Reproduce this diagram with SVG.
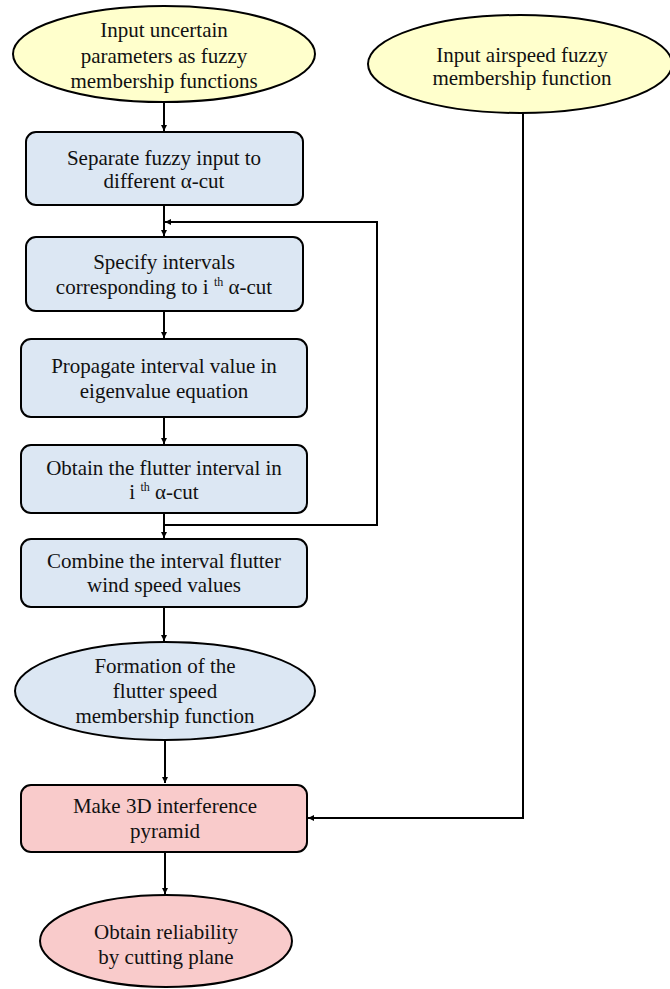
<svg xmlns="http://www.w3.org/2000/svg" width="670" height="989" viewBox="0 0 670 989">
<style>
.n{stroke:#000;stroke-width:2}
.y{fill:#FFFFCC}
.b{fill:#DCE7F3}
.p{fill:#F9CBCB}
.t{font-family:'Liberation Serif','Times New Roman',serif;font-size:21px;fill:#111;text-anchor:middle}
.sup{font-size:12px}
.c{fill:none;stroke:#000;stroke-width:2}
</style>
<defs>
<marker id="ah" viewBox="0 0 10 10" refX="10" refY="5" markerWidth="6" markerHeight="6" orient="auto" markerUnits="userSpaceOnUse">
<path d="M0,0 L10,5 L0,10 z" fill="#000"/>
</marker>
</defs>
<rect width="670" height="989" fill="#fff"/>
<g id="connectors">
<path class="c" d="M164,103 V131" marker-end="url(#ah)"/>
<path class="c" d="M164,205 V236" marker-end="url(#ah)"/>
<path class="c" d="M164,311 V338" marker-end="url(#ah)"/>
<path class="c" d="M164,417 V444" marker-end="url(#ah)"/>
<path class="c" d="M164,513 V538" marker-end="url(#ah)"/>
<path class="c" d="M164,525 H377 V222 H165" marker-end="url(#ah)"/>
<path class="c" d="M164,607 V641" marker-end="url(#ah)"/>
<path class="c" d="M165,740 V783" marker-end="url(#ah)"/>
<path class="c" d="M165,852 V894" marker-end="url(#ah)"/>
<path class="c" d="M523,113 V818 H308" marker-end="url(#ah)"/>
</g>
<g id="n1">
<ellipse class="n y" cx="164" cy="54" rx="151" ry="48"/>
<text class="t" x="164" y="37">Input uncertain</text>
<text class="t" x="164" y="63">parameters as fuzzy</text>
<text class="t" x="164" y="88">membership functions</text>
</g>
<g id="n2">
<ellipse class="n y" cx="520" cy="64" rx="152" ry="49"/>
<text class="t" x="522" y="62">Input airspeed fuzzy</text>
<text class="t" x="522" y="85">membership function</text>
</g>
<g id="n3">
<rect class="n b" x="26" y="132" width="277" height="73" rx="10"/>
<text class="t" x="164" y="165">Separate fuzzy input to</text>
<text class="t" x="164" y="188">different α-cut</text>
</g>
<g id="n4">
<rect class="n b" x="26" y="237" width="277" height="74" rx="10"/>
<text class="t" x="164" y="269">Specify intervals</text>
<text class="t" x="164" y="294">corresponding to i <tspan class="sup" dy="-8">th</tspan><tspan dy="8"> α-cut</tspan></text>
</g>
<g id="n5">
<rect class="n b" x="21" y="339" width="286" height="78" rx="10"/>
<text class="t" x="164" y="373">Propagate interval value in</text>
<text class="t" x="164" y="398">eigenvalue equation</text>
</g>
<g id="n6">
<rect class="n b" x="21" y="445" width="286" height="68" rx="10"/>
<text class="t" x="164" y="475">Obtain the flutter interval in</text>
<text class="t" x="164" y="499">i <tspan class="sup" dy="-8">th</tspan><tspan dy="8"> α-cut</tspan></text>
</g>
<g id="n7">
<rect class="n b" x="21" y="539" width="286" height="68" rx="10"/>
<text class="t" x="164" y="568">Combine the interval flutter</text>
<text class="t" x="164" y="592">wind speed values</text>
</g>
<g id="n8">
<ellipse class="n b" cx="165" cy="691" rx="150" ry="49"/>
<text class="t" x="165" y="673">Formation of the</text>
<text class="t" x="165" y="698">flutter speed</text>
<text class="t" x="165" y="723">membership function</text>
</g>
<g id="n9">
<rect class="n p" x="21" y="785" width="286" height="67" rx="10"/>
<text class="t" x="165" y="813">Make 3D interference</text>
<text class="t" x="165" y="838">pyramid</text>
</g>
<g id="n10">
<ellipse class="n p" cx="166" cy="941" rx="126" ry="46"/>
<text class="t" x="166" y="939">Obtain reliability</text>
<text class="t" x="166" y="964">by cutting plane</text>
</g>
</svg>
